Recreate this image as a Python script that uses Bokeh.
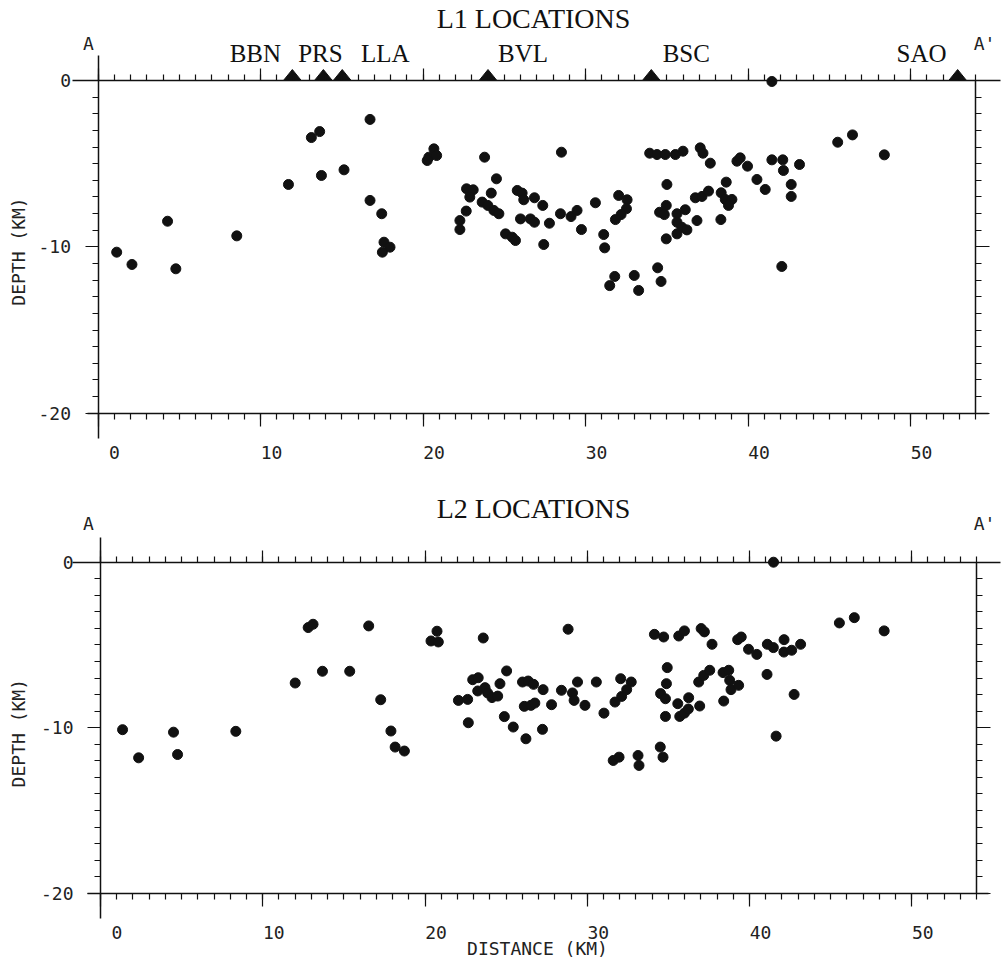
from bokeh.plotting import figure
from bokeh.models import LinearAxis, FixedTicker, Range1d, ColumnDataSource
from bokeh.layouts import column
from bokeh.embed import file_html
from bokeh.resources import INLINE
from bokeh.core.properties import value

# ---------------- data (km) ----------------
l1_dist = [1.15, 2.09, 4.28, 4.79, 8.54, 11.72, 13.13, 13.64, 13.75, 15.14,
           16.74, 16.74, 17.46, 17.60, 17.97, 17.50, 20.36, 20.67, 20.84, 20.26,
           23.79, 24.52, 22.68, 23.09, 22.88, 24.20, 23.64, 23.99, 24.36, 24.67,
           22.66, 22.27, 22.27, 25.80, 26.10, 26.20, 26.86, 27.37, 26.00, 26.61,
           26.86, 27.78, 25.08, 25.49, 25.69, 27.43, 28.52, 28.46, 29.11, 29.48,
           29.75, 30.61, 31.12, 31.18, 32.04, 32.56, 32.52, 32.19, 31.84, 31.80,
           31.49, 33.00, 33.27, 34.44, 34.65, 33.95, 34.40, 34.91, 35.53, 36.00,
           37.06, 37.23, 37.68, 35.01, 34.56, 34.85, 34.97, 35.63, 36.14, 35.63,
           35.93, 36.24, 35.63, 34.97, 36.76, 36.86, 37.17, 37.57, 38.35, 38.66,
           38.60, 39.01, 38.80, 38.33, 39.32, 39.52, 39.97, 40.55, 41.06, 41.47,
           42.14, 42.18, 43.17, 42.66, 42.66, 42.08, 41.47, 45.52, 46.43, 48.39]
l1_depth = [-10.32, -11.06, -8.46, -11.32, -9.34, -6.25, -3.43, -3.07, -5.71, -5.37,
            -2.34, -7.21, -8.01, -9.72, -10.02, -10.32, -4.61, -4.11, -4.51, -4.81,
            -4.61, -5.91, -6.51, -6.57, -7.01, -6.77, -7.31, -7.51, -7.81, -8.01,
            -7.85, -8.42, -8.96, -6.61, -6.77, -7.17, -7.05, -7.51, -8.32, -8.32,
            -8.52, -8.58, -9.22, -9.42, -9.62, -9.86, -4.31, -8.01, -8.18, -7.81,
            -8.96, -7.35, -9.26, -10.06, -6.91, -7.17, -7.71, -8.06, -8.36, -11.78,
            -12.33, -11.72, -12.62, -11.26, -12.08, -4.37, -4.45, -4.45, -4.45, -4.25,
            -4.05, -4.37, -4.97, -6.25, -7.92, -8.06, -7.51, -8.01, -7.77, -8.52,
            -8.82, -8.98, -9.22, -9.52, -7.05, -8.42, -6.97, -6.65, -6.75, -6.11,
            -7.15, -7.15, -7.51, -8.36, -4.85, -4.65, -5.15, -5.95, -6.55, -4.77,
            -4.77, -5.41, -5.05, -6.25, -6.97, -11.18, -0.06, -3.71, -3.27, -4.47]

l2_dist = [1.36, 2.35, 4.50, 4.75, 8.34, 12.00, 12.80, 13.10, 13.68, 15.36,
           16.53, 17.27, 17.90, 18.16, 18.73, 20.37, 20.74, 20.82, 23.59, 25.03,
           22.06, 22.63, 22.67, 22.94, 23.28, 23.25, 23.70, 23.86, 24.13, 24.48,
           24.62, 24.89, 25.44, 26.22, 26.01, 26.36, 26.69, 27.28, 26.12, 26.53,
           26.77, 27.80, 27.24, 28.82, 28.41, 29.09, 29.19, 29.40, 29.86, 30.56,
           31.03, 32.06, 32.71, 32.43, 32.12, 31.71, 31.60, 31.96, 33.13, 33.19,
           34.50, 34.67, 34.14, 34.71, 34.93, 34.88, 34.52, 34.82, 34.82, 35.64,
           35.99, 37.02, 37.22, 37.69, 39.27, 39.49, 39.94, 40.45, 41.10, 41.47,
           42.13, 42.12, 42.60, 43.15, 41.08, 42.75, 41.64, 41.48, 45.54, 46.46,
           48.30, 35.58, 35.70, 35.99, 36.23, 36.25, 36.93, 36.87, 37.18, 37.55,
           38.37, 38.72, 38.78, 38.86, 39.33, 38.41]
l2_depth = [-10.12, -11.82, -10.27, -11.62, -10.22, -7.30, -3.95, -3.75, -6.59, -6.59,
            -3.85, -8.31, -10.20, -11.17, -11.41, -4.76, -4.17, -4.82, -4.58, -6.57,
            -8.35, -8.29, -9.70, -7.10, -6.98, -7.78, -7.58, -7.90, -8.18, -8.09,
            -7.34, -9.33, -9.96, -10.67, -7.24, -7.18, -7.38, -7.70, -8.71, -8.65,
            -8.51, -8.61, -10.10, -4.05, -7.74, -7.90, -8.35, -7.24, -8.65, -7.24,
            -9.12, -7.04, -7.24, -7.70, -8.11, -8.45, -11.98, -11.78, -11.68, -12.28,
            -11.17, -11.78, -4.36, -4.52, -6.37, -7.34, -7.94, -8.25, -9.32, -4.46,
            -4.15, -4.01, -4.21, -4.96, -4.68, -4.52, -5.26, -5.57, -4.96, -5.16,
            -4.68, -5.43, -5.32, -4.96, -6.78, -7.99, -10.51, 0.00, -3.67, -3.35,
            -4.15, -8.55, -9.32, -9.12, -8.87, -8.19, -8.69, -7.24, -6.84, -6.53,
            -6.67, -6.53, -7.14, -7.70, -7.44, -8.39]

stations = ["BBN", "PRS", "LLA", "BVL", "BSC", "SAO"]
station_dist = [11.96, 13.87, 15.03, 24.00, 34.05, 52.90]

x_ticks = [0, 10, 20, 30, 40, 50]
x_tick_labels = ["0", "10", "20", "30", "40", "50"]
y_ticks = [0, -10, -20]
y_tick_labels = ["0", "-10", "-20"]
x_minor = list(range(0, 55))
y_minor = list(range(-20, 1))

# ---------------- style ----------------
MONO = "DejaVu Sans Mono"
SERIF = "Liberation Serif"
INK = "#111111"
W = 1004


def style_axis(ax, major_out, minor_out):
    ax.axis_line_color = INK
    ax.axis_line_width = 1.5
    ax.major_tick_line_color = INK
    ax.minor_tick_line_color = INK
    ax.major_tick_line_width = 1.2
    ax.minor_tick_line_width = 1.2
    ax.major_tick_in = 0
    ax.minor_tick_in = 0
    ax.major_tick_out = major_out
    ax.minor_tick_out = minor_out
    ax.major_label_text_font = MONO
    ax.major_label_text_font_size = "18px"
    ax.major_label_text_color = "#222222"


def make_panel(title, dist, depth, height, x0px, sx, y0px, sy, with_stations, with_xlabel):
    kx = lambda px: (px - x0px) / sx
    ky = lambda py: (y0px - py) / sy
    p = figure(width=W, height=height,
               x_range=Range1d(kx(0), kx(W)), y_range=Range1d(ky(height), ky(0)),
               output_backend="svg", toolbar_location=None,
               x_axis_location=None, y_axis_location=None, min_border=0,
               outline_line_color=None, background_fill_color="white")
    p.grid.visible = False

    # top line at depth 0 (ticks upward)
    top = LinearAxis(fixed_location=0, bounds=(kx(72), kx(1000)),
                     ticker=FixedTicker(ticks=x_ticks, minor_ticks=x_minor),
                     major_label_overrides={t: "" for t in x_ticks})
    style_axis(top, 12, 6)
    p.add_layout(top, "above")

    # bottom line at depth -20 (ticks downward)
    bot = LinearAxis(fixed_location=-20, bounds=(kx(87), kx(988)),
                     ticker=FixedTicker(ticks=x_ticks, minor_ticks=x_minor),
                     major_label_overrides={t: "" for t in x_ticks})
    style_axis(bot, 13, 6)
    p.add_layout(bot, "below")

    # distance labels: left-aligned at the tick as in the original plot
    shift = 11.0 / sx
    lab_pos = [round(t + shift, 3) for t in x_ticks]
    lab_txt = [s if len(s) == 2 else "\u00a0" + s for s in x_tick_labels]
    labax = LinearAxis(fixed_location=-20,
                       ticker=FixedTicker(ticks=lab_pos, minor_ticks=[]),
                       major_label_overrides=dict(zip(lab_pos, lab_txt)))
    style_axis(labax, 0, 0)
    labax.axis_line_color = None
    labax.major_tick_line_color = None
    labax.minor_tick_line_color = None
    labax.major_label_standoff = 29
    p.add_layout(labax, "below")

    # left depth axis at distance 0
    left = LinearAxis(fixed_location=0, bounds=(-21.5, 1.5),
                      ticker=FixedTicker(ticks=y_ticks, minor_ticks=y_minor),
                      major_label_overrides=dict(zip(y_ticks, y_tick_labels)))
    style_axis(left, 13, 6)
    left.major_label_standoff = 14
    p.add_layout(left, "left")

    # right depth axis at 54 km
    right = LinearAxis(fixed_location=54, bounds=(-20, 0),
                       ticker=FixedTicker(ticks=y_ticks, minor_ticks=y_minor),
                       major_label_overrides={t: "" for t in y_ticks})
    style_axis(right, 14, 6)
    p.add_layout(right, "right")

    # events
    p.scatter(dist, depth, size=10, marker="circle", fill_color=INK, line_color=INK)

    if with_stations:
        tri_xs = [[d - 0.55, d + 0.55, d] for d in station_dist]
        tri_ys = [[0, 0, 0.66] for d in station_dist]
        p.patches(tri_xs, tri_ys, fill_color=INK, line_color=INK)
        src = ColumnDataSource(dict(x=station_dist, y=[0] * len(station_dist), name=stations,
                                    dx=[-37, -3, 43, 35, 35, -36]))
        p.text(x="x", y="y", text="name", source=src, x_offset="dx", y_offset=-27,
               text_font=value(SERIF), text_font_size="25px", text_color=INK,
               text_align="center", text_baseline="middle")

    p.text(x=[kx(533)], y=[ky(y0px - 62 if with_stations else y0px - 54)], text=[title],
           text_font=value(SERIF), text_font_size="28px", text_color=INK,
           text_align="center", text_baseline="middle")
    p.text(x=[kx(88)], y=[ky(43)], text=["A"], text_font=value(MONO),
           text_font_size="18px", text_color="#222222",
           text_align="center", text_baseline="middle")
    p.text(x=[kx(984)], y=[ky(43)], text=["A'"], text_font=value(MONO),
           text_font_size="18px", text_color="#222222",
           text_align="center", text_baseline="middle")
    p.text(x=[kx(18)], y=[ky(y0px + 171)], text=["DEPTH (KM)"], angle=1.5707963,
           text_font=value(MONO), text_font_size="18px", text_color="#222222",
           text_align="center", text_baseline="middle")
    if with_xlabel:
        p.text(x=[kx(537)], y=[ky(468)], text=["DISTANCE (KM)"], text_font=value(MONO),
               text_font_size="18px", text_color="#222222",
               text_align="center", text_baseline="middle")
    return p


p1 = make_panel("L1 LOCATIONS", l1_dist, l1_depth, 480, 97.5, 16.25, 80.0, 16.635, True, False)
p2 = make_panel("L2 LOCATIONS", l2_dist, l2_depth, 479, 100.0, 16.225, 81.7, 16.55, False, True)

layout = column(p1, p2)
open("out.html", "w").write(file_html(layout, INLINE))
